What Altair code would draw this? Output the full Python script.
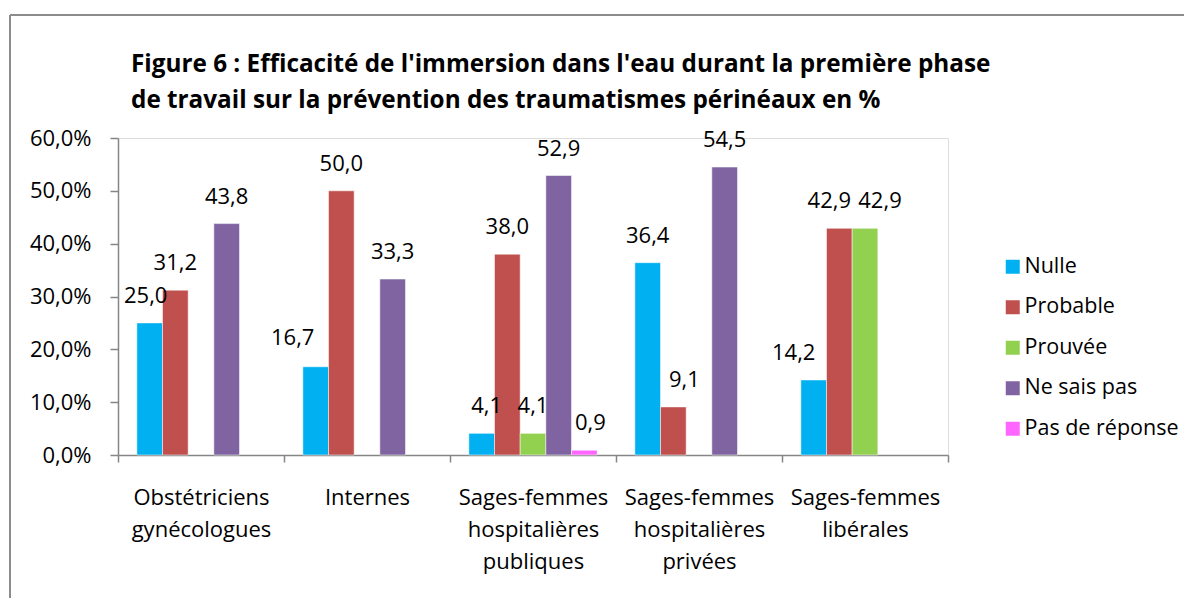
import altair as alt
import pandas as pd

categories = [
    "Obstétriciens\ngynécologues",
    "Internes",
    "Sages-femmes\nhospitalières\npubliques",
    "Sages-femmes\nhospitalières\nprivées",
    "Sages-femmes\nlibérales",
]
series = ["Nulle", "Probable", "Prouvée", "Ne sais pas", "Pas de réponse"]
colors = ["#00B0F0", "#C0504D", "#92D050", "#8064A2", "#FF66FF"]

nulle = [25.0, 16.7, 4.1, 36.4, 14.2]
probable = [31.2, 50.0, 38.0, 9.1, 42.9]
prouvee = [0.0, 0.0, 4.1, 0.0, 42.9]
ne_sais_pas = [43.8, 33.3, 52.9, 54.5, 0.0]
pas_de_reponse = [0.0, 0.0, 0.9, 0.0, 0.0]

title_lines = [
    "Figure 6 : Efficacité de l'immersion dans l'eau durant la première phase",
    "de travail sur la prévention des traumatismes périnéaux en %",
]

values_by_series = [nulle, probable, prouvee, ne_sais_pas, pas_de_reponse]
rows = []
for s, vals in zip(series, values_by_series):
    for c, v in zip(categories, vals):
        if v > 0:
            rows.append({"cat": c, "serie": s, "val": v})
df = pd.DataFrame(rows)

# label nudges (style only: how the data labels were moved apart in the original)
nudges = {
    (0, "Nulle"): (-4, 0),
    (1, "Nulle"): (-23, -2),
    (2, "Nulle"): (5, 0),
    (2, "Pas de réponse"): (6, 0),
    (3, "Probable"): (11, 0),
    (4, "Nulle"): (-20, 0),
    (4, "Probable"): (-10, 0),
    (4, "Prouvée"): (15, 0),
}

FONT = "Open Sans"
AXIS_GREY = "#868686"
LABEL_DY = -20

x_enc = alt.X(
    "cat:N",
    sort=categories,
    scale=alt.Scale(domain=categories, paddingInner=0, paddingOuter=0),
    axis=alt.Axis(
        title=None,
        labelAngle=0,
        labelExpr="split(datum.label, '\\n')",
        labelFontSize=22,
        labelFont=FONT,
        labelColor="#000000",
        labelLineHeight=32,
        labelPadding=25,
        labelBaseline="top",
        tickBand="extent",
        tickSize=7,
        tickColor=AXIS_GREY,
        domainColor=AXIS_GREY,
        domainWidth=1.5,
        tickWidth=1.5,
    ),
)
xoff_enc = alt.XOffset(
    "serie:N",
    sort=series,
    scale=alt.Scale(domain=series, paddingInner=0, paddingOuter=0.735),
)
y_enc = alt.Y(
    "val:Q",
    scale=alt.Scale(domain=[0, 60]),
    axis=alt.Axis(
        title=None,
        values=[0, 10, 20, 30, 40, 50, 60],
        labelExpr="replace(format(datum.value, '.1f'), '.', ',') + '%'",
        labelFontSize=22,
        labelFont=FONT,
        labelColor="#000000",
        labelPadding=19,
        tickSize=8,
        tickColor=AXIS_GREY,
        domainColor=AXIS_GREY,
        domainWidth=1.5,
        tickWidth=1.5,
        grid=False,
    ),
)
color_enc = alt.Color(
    "serie:N",
    sort=series,
    scale=alt.Scale(domain=series, range=colors),
    legend=alt.Legend(
        title=None,
        orient="none",
        legendX=884,
        legendY=118,
        padding=0,
        symbolType="square",
        symbolSize=196,
        symbolStrokeWidth=0,
        labelFontSize=21.5,
        labelFont=FONT,
        labelColor="#000000",
        labelOffset=1,
        rowPadding=17.5,
    ),
)

base = alt.Chart(df)
bars = base.mark_bar(stroke="white", strokeWidth=0.5).encode(
    x=x_enc, xOffset=xoff_enc, y=y_enc, color=color_enc
)


def key_expr(ci, s):
    return f"datum.cat === {categories[ci]!r} && datum.serie === {s!r}".replace("\n", "\\n")


plain_filter = " && ".join(f"!({key_expr(ci, s)})" for (ci, s) in nudges)
label_layers = [
    base.mark_text(
        font=FONT, fontSize=22, color="#000000", baseline="alphabetic", dy=LABEL_DY
    )
    .transform_filter(plain_filter)
    .transform_calculate(lbl="replace(format(datum.val, '.1f'), '.', ',')")
    .encode(x=x_enc, xOffset=xoff_enc, y=y_enc, text="lbl:N")
]
for (ci, s), (ddx, ddy) in nudges.items():
    label_layers.append(
        base.mark_text(
            font=FONT, fontSize=22, color="#000000", baseline="alphabetic",
            dx=ddx, dy=LABEL_DY + ddy,
        )
        .transform_filter(key_expr(ci, s))
        .transform_calculate(lbl="replace(format(datum.val, '.1f'), '.', ',')")
        .encode(x=x_enc, xOffset=xoff_enc, y=y_enc, text="lbl:N")
    )

deco_df = pd.DataFrame({"a": [0]})
frame_top = alt.Chart(deco_df).mark_rule(color="#8c8c8c", strokeWidth=2).encode(
    x=alt.value(-108), x2=alt.value(1100), y=alt.value(-123)
)
frame_left = alt.Chart(deco_df).mark_rule(color="#8c8c8c", strokeWidth=2).encode(
    x=alt.value(-108), y=alt.value(-123), y2=alt.value(500)
)
title = alt.Chart(deco_df).mark_text(
    text=title_lines,
    font=FONT,
    fontSize=24.3,
    fontWeight="bold",
    color="#000000",
    align="left",
    baseline="alphabetic",
    lineHeight=36,
).encode(x=alt.value(13), y=alt.value(-66))

chart = (
    alt.layer(frame_top, frame_left, title, bars, *label_layers)
    .properties(
        width=830,
        height=317,
        autosize=alt.AutoSizeParams(type="none"),
        padding={"left": 110, "top": 130, "right": 236, "bottom": 143},
    )
    .configure_view(stroke=None)
    .configure(background="white")
)

chart.save("out.html", embed_options={"renderer": "svg", "actions": False})
